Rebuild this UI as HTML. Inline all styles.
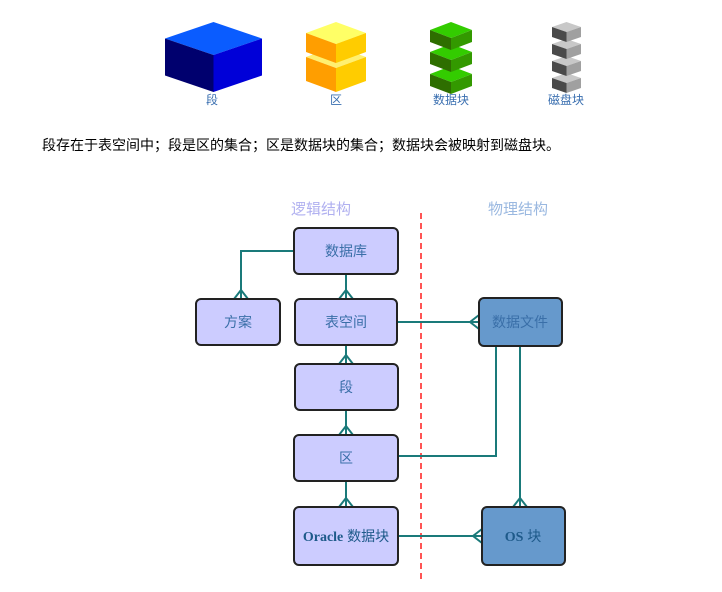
<!DOCTYPE html>
<html><head><meta charset="utf-8"><style>
body{margin:0;background:#fff;width:722px;height:592px;overflow:hidden}
svg{display:block}
text{font-family:"Liberation Sans","Noto Sans CJK SC",sans-serif}
</style></head><body>
<svg width="722" height="592" viewBox="0 0 722 592">
<!-- blue cube -->
<polygon points="165,38.5 213.5,22 262,38.5 213.5,55" fill="#0a5cff"/>
<polygon points="165,38.5 213.5,55 213.5,92 165,75.5" fill="#00006e"/>
<polygon points="262,38.5 213.5,55 213.5,92 262,75.5" fill="#0000d8"/>
<!-- yellow -->
<g>
<polygon points="306,57 336,46 366,57 336,68" fill="#fff070"/>
<polygon points="306,57 336,68 336,92 306,81" fill="#ff9e00"/>
<polygon points="366,57 336,68 336,92 366,81" fill="#ffcc00"/>
<polygon points="306,33 336,22 366,33 336,44" fill="#ffff66"/>
<polygon points="306,33 336,44 336,63 306,52" fill="#ff9e00"/>
<polygon points="366,33 336,44 336,63 366,52" fill="#ffcc00"/>
</g>
<!-- green -->
<g>
<polygon points="430,74 451,66 472,74 451,82" fill="#33cc00"/>
<polygon points="430,74 451,82 451,94 430,86" fill="#2e6e00"/>
<polygon points="472,74 451,82 451,94 472,86" fill="#339900"/>
<polygon points="430,52 451,44 472,52 451,60" fill="#33cc00"/>
<polygon points="430,52 451,60 451,72 430,64" fill="#2e6e00"/>
<polygon points="472,52 451,60 451,72 472,64" fill="#339900"/>
<polygon points="430,30 451,22 472,30 451,38" fill="#33cc00"/>
<polygon points="430,30 451,38 451,50 430,42" fill="#2e6e00"/>
<polygon points="472,30 451,38 451,50 472,42" fill="#339900"/>
</g>
<!-- grey -->
<g>
<polygon points="552,78 566.5,73 581,78 566.5,83" fill="#c8c8c8"/>
<polygon points="552,78 566.5,83 566.5,93 552,88" fill="#4a4a4a"/>
<polygon points="581,78 566.5,83 566.5,93 581,88" fill="#a0a0a0"/>
<polygon points="552,61 566.5,56 581,61 566.5,66" fill="#c8c8c8"/>
<polygon points="552,61 566.5,66 566.5,76 552,71" fill="#4a4a4a"/>
<polygon points="581,61 566.5,66 566.5,76 581,71" fill="#a0a0a0"/>
<polygon points="552,44 566.5,39 581,44 566.5,49" fill="#c8c8c8"/>
<polygon points="552,44 566.5,49 566.5,59 552,54" fill="#4a4a4a"/>
<polygon points="581,44 566.5,49 566.5,59 581,54" fill="#a0a0a0"/>
<polygon points="552,27 566.5,22 581,27 566.5,32" fill="#c8c8c8"/>
<polygon points="552,27 566.5,32 566.5,42 552,37" fill="#4a4a4a"/>
<polygon points="581,27 566.5,32 566.5,42 581,37" fill="#a0a0a0"/>
</g>
<g font-size="12" fill="#3a6fb0" text-anchor="middle">
<text x="212" y="104">段</text>
<text x="336" y="104">区</text>
<text x="451" y="104">数据块</text>
<text x="566" y="104">磁盘块</text>
</g>
<text x="42" y="150" font-size="14" fill="#000">段存在于表空间中；段是区的集合；区是数据块的集合；数据块会被映射到磁盘块。</text>
<text x="321" y="214" font-size="15" fill="#b0b0f0" text-anchor="middle">逻辑结构</text>
<text x="518" y="214" font-size="15" fill="#9ab8e0" text-anchor="middle">物理结构</text>
<line x1="421" y1="213" x2="421" y2="582" stroke="#f55" stroke-width="2" stroke-dasharray="6,4"/>
<!-- connectors -->
<g stroke="#1a7a7a" stroke-width="2" fill="none">
<polyline points="294,251 241,251 241,299"/>
<line x1="346" y1="274" x2="346" y2="299"/>
<line x1="346" y1="345" x2="346" y2="364"/>
<line x1="346" y1="410" x2="346" y2="435"/>
<line x1="346" y1="481" x2="346" y2="507"/>
<line x1="398" y1="322" x2="479" y2="322"/>
<polyline points="496,346 496,456 398,456"/>
<line x1="520" y1="346" x2="520" y2="507"/>
<line x1="398" y1="536" x2="482" y2="536"/>
<!-- crow feet -->
<polyline points="234,299 241,290 248,299"/>
<polyline points="339,299 346,290 353,299"/>
<polyline points="339,364 346,355 353,364"/>
<polyline points="339,435 346,426 353,435"/>
<polyline points="339,507 346,498 353,507"/>
<polyline points="513,507 520,498 527,507"/>
<polyline points="479,315 470,322 479,329"/>
<polyline points="482,529 473,536 482,543"/>
</g>
<g stroke="#222" stroke-width="2">
<rect x="294" y="228" width="104" height="46" rx="5" fill="#ccccff"/>
<rect x="196" y="299" width="84" height="46" rx="5" fill="#ccccff"/>
<rect x="295" y="299" width="102" height="46" rx="5" fill="#ccccff"/>
<rect x="295" y="364" width="103" height="46" rx="5" fill="#ccccff"/>
<rect x="294" y="435" width="104" height="46" rx="5" fill="#ccccff"/>
<rect x="294" y="507" width="104" height="58" rx="5" fill="#ccccff"/>
<rect x="479" y="298" width="83" height="48" rx="5" fill="#6699cc"/>
<rect x="482" y="507" width="83" height="58" rx="5" fill="#6699cc"/>
</g>
<g font-size="14" fill="#3a6fa8" text-anchor="middle">
<text x="346" y="256">数据库</text>
<text x="238" y="327">方案</text>
<text x="346" y="327">表空间</text>
<text x="346" y="392">段</text>
<text x="346" y="463">区</text>
<text x="520" y="327">数据文件</text>
</g>
<text x="346" y="541" font-size="14" fill="#1e5a8a" text-anchor="middle"><tspan font-family="Liberation Serif" font-weight="bold">Oracle</tspan> 数据块</text>
<text x="523" y="541" font-size="14" fill="#1e5a8a" text-anchor="middle"><tspan font-family="Liberation Serif" font-weight="bold">OS</tspan> 块</text>
</svg>
</body></html>
